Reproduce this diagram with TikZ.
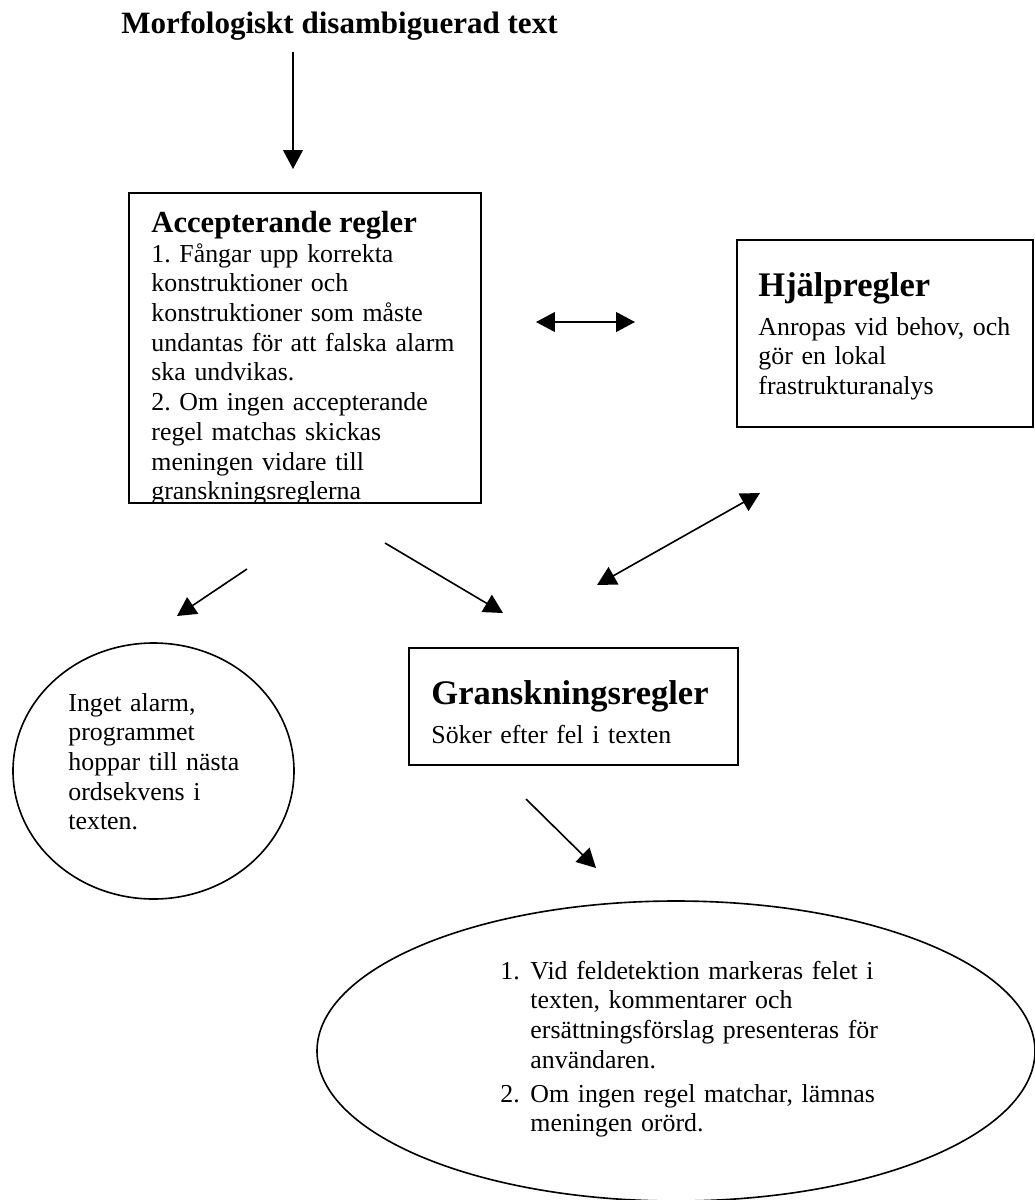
\documentclass[tikz,border=0pt]{standalone}
\usepackage{fontspec}
\setmainfont{Liberation Serif}
\usepackage{tikz}
\usetikzlibrary{positioning,arrows.meta,fit,shapes.geometric}

\begin{document}
\frenchspacing
\begin{tikzpicture}[
    x=0.464pt, y=-0.464pt,
    box/.style={rectangle, draw, line width=0.8pt, inner sep=0pt},
    bubble/.style={ellipse, draw, line width=0.75pt, inner sep=0pt},
    head/.style={anchor=base west, inner sep=0pt, font=\fontsize{16}{18}\selectfont\bfseries},
    body/.style={anchor=base west, inner sep=0pt, align=left, text width=#1, font=\fontsize{12}{13.8}\selectfont},
    body/.default=170pt,
    arrow/.style={-{Triangle[length=8.8pt, width=9.2pt]}, line width=0.75pt},
    twoway/.style={{Triangle[length=8.8pt, width=9.2pt]}-{Triangle[length=8.8pt, width=9.2pt]}, line width=0.75pt}
]
\useasboundingbox (0,0) rectangle (1035,1200);

% Input text
\node[anchor=base west, inner sep=0pt, font=\fontsize{14.4}{16}\selectfont\bfseries] (input) at (121,33) {Morfologiskt disambiguerad text};
\coordinate (in1) at (293,52);
\coordinate (in2) at (293,169);
\draw[arrow] (in1) -- (in2);

% Accepting rules (last line cut by the frame)
\node[box, fit={(129,193) (481,503)}] (acc) {};
\begin{scope}
  \clip (acc.south west) rectangle (acc.north east);
  \node[head, font=\fontsize{14.2}{16}\selectfont\bfseries] (acchead) at (151,232) {Accepterande regler};
  \node[body] (accbody) at (151,262) {1. Fångar upp korrekta\\konstruktioner och\\konstruktioner som måste\\undantas för att falska alarm\\ska undvikas.\\2. Om ingen accepterande\\regel matchas skickas\\meningen vidare till\\granskningsreglerna};
\end{scope}

% Helper rules
\node[box, fit={(737,240) (1033,427)}] (help) {};
\node[head] (helphead) at (758,296) {Hjälpregler};
\node[body] (helpbody) at (758,335) {Anropas vid behov, och\\gör en lokal\\frastrukturanalys};

% Checking rules
\node[box, fit={(409,648) (738,765)}] (check) {};
\node[head] (checkhead) at (431,704) {Granskningsregler};
\node[body] (checkbody) at (431,743) {Söker efter fel i texten};

% Outcomes
\node[bubble, minimum width=281*0.464pt, minimum height=256*0.464pt] (noalarm) at (153.5,771) {};
\node[body=80pt] (noalarmtxt) at (68,711) {Inget alarm,\\programmet\\hoppar till nästa\\ordsekvens i\\texten.};

\node[bubble, minimum width=718*0.464pt, minimum height=300*0.464pt] (report) at (676,1051) {};
\node[body=20pt] (num1) at (500,979) {1.};
\node[body=180pt] (item1) at (530,979) {Vid feldetektion markeras felet i\\texten, kommentarer och\\ersättningsförslag presenteras för\\användaren.};
\node[body=20pt] (num2) at (500,1102) {2.};
\node[body=180pt] (item2) at (530,1102) {Om ingen regel matchar, lämnas\\meningen orörd.};

% Connectors
\coordinate (hl) at (536,322);
\coordinate (hr) at (635,322);
\draw[twoway] (hl) -- (hr);

\coordinate (dl) at (597,585);
\coordinate (dr) at (760,493);
\draw[twoway] (dl) -- (dr);

\coordinate (l1) at (247,569);
\coordinate (l2) at (177,616);
\draw[arrow] (l1) -- (l2);

\coordinate (m1) at (385,543);
\coordinate (m2) at (503,613);
\draw[arrow] (m1) -- (m2);

\coordinate (r1) at (526,799);
\coordinate (r2) at (596,868);
\draw[arrow] (r1) -- (r2);

\end{tikzpicture}
\end{document}
